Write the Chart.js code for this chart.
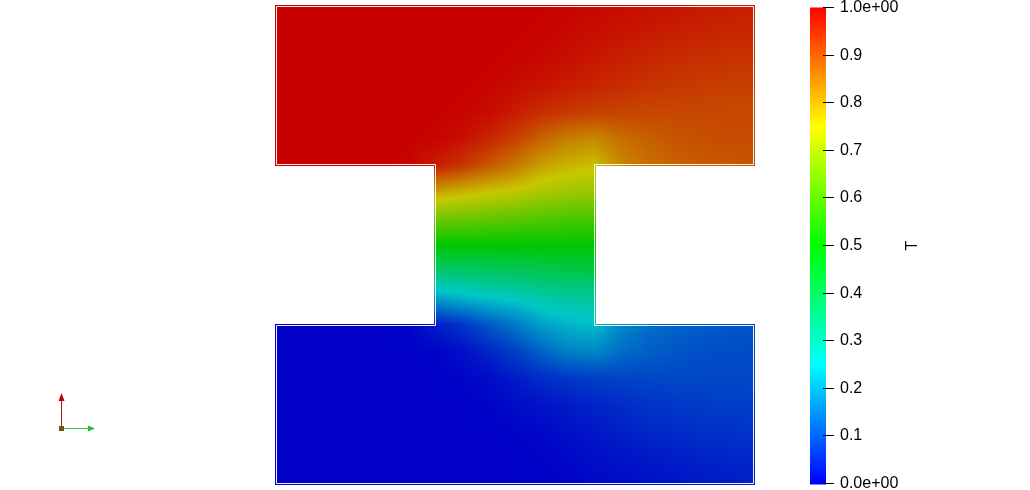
<!DOCTYPE html>
<html>
<head>
<meta charset="utf-8">
<script src="https://cdn.jsdelivr.net/npm/chart.js@4.4.1/dist/chart.umd.min.js"></script>
<style>
html,body{margin:0;padding:0;background:#fff;}
#wrap{width:1030px;height:490px;position:relative;}
</style>
</head>
<body>
<div id="wrap"><canvas id="c" width="1030" height="490"></canvas></div>
<script>
// ---------- DATA (nodal values of T) ----------
// Grid nodes every 1/6 unit; x from 0 to 3 (19 nodes), y from 3 (top) down to 0.
const fieldName = 'T';
const nodesPerUnit = 6;

// Top block: y = 3 ... 2 (7 rows x 19 nodes)
const topBlockT = [
  [1,1,1,1,1,1,1,1,1,1,1,0.995,0.99,0.985,0.98,0.975,0.97,0.965,0.96],
  [1,1,1,1,1,1,1,1,1,1,0.995,0.99,0.982,0.975,0.968,0.962,0.957,0.953,0.95],
  [1,1,1,1,1,1,1,1,1,0.995,0.99,0.98,0.97,0.96,0.952,0.945,0.94,0.937,0.935],
  [1,1,1,1,1,1,1,1,0.995,0.985,0.975,0.965,0.955,0.945,0.935,0.93,0.925,0.922,0.92],
  [1,1,1,1,1,1,1,0.995,0.985,0.965,0.945,0.93,0.92,0.915,0.912,0.91,0.91,0.91,0.91],
  [1,1,1,1,1,1,0.995,0.98,0.955,0.92,0.875,0.84,0.83,0.86,0.88,0.893,0.9,0.905,0.905],
  [1,1,1,1,1,0.995,0.965,0.935,0.89,0.85,0.80,0.775,0.76,0.83,0.86,0.875,0.885,0.89,0.895]
];
// Neck: interior rows y = 11/6 ... 7/6, nodes x = 1 ... 2 (5 rows x 7 nodes)
const neckT = [
  [0.80,0.775,0.755,0.74,0.715,0.70,0.69],
  [0.64,0.635,0.625,0.615,0.605,0.595,0.59],
  [0.5,0.5,0.5,0.5,0.5,0.5,0.5],
  [0.36,0.365,0.375,0.385,0.395,0.405,0.41],
  [0.20,0.225,0.245,0.26,0.285,0.30,0.31]
];
// Bottom block: y = 1 ... 0 (7 rows x 19 nodes)
const bottomBlockT = [
  [0,0,0,0,0,0.005,0.035,0.065,0.11,0.15,0.20,0.225,0.24,0.17,0.14,0.125,0.115,0.11,0.105],
  [0,0,0,0,0,0,0.005,0.02,0.045,0.08,0.125,0.16,0.17,0.14,0.12,0.107,0.1,0.095,0.095],
  [0,0,0,0,0,0,0,0.005,0.015,0.035,0.055,0.07,0.08,0.085,0.088,0.09,0.09,0.09,0.09],
  [0,0,0,0,0,0,0,0,0.005,0.015,0.025,0.035,0.045,0.055,0.065,0.07,0.075,0.078,0.08],
  [0,0,0,0,0,0,0,0,0,0.005,0.01,0.02,0.03,0.04,0.048,0.055,0.06,0.063,0.065],
  [0,0,0,0,0,0,0,0,0,0,0.005,0.01,0.018,0.025,0.032,0.038,0.043,0.047,0.05],
  [0,0,0,0,0,0,0,0,0,0,0,0.005,0.01,0.015,0.02,0.025,0.03,0.035,0.04]
];

const colorbarTicks = [0,0.1,0.2,0.3,0.4,0.5,0.6,0.7,0.8,0.9,1];
const colormapStops = [
  [0.00,[0,0,255]],
  [0.25,[0,255,255]],
  [0.50,[0,255,0]],
  [0.75,[255,255,0]],
  [1.00,[255,0,0]]
];

// ---------- build nodal grid ----------
const NX = 3 * nodesPerUnit + 1;
const grid = [];
topBlockT.forEach(r => grid.push(r));
neckT.forEach(r => { const row = new Array(NX).fill(null); r.forEach((v,k) => row[nodesPerUnit + k] = v); grid.push(row); });
bottomBlockT.forEach(r => grid.push(r));

function cmap(v){
  v = Math.max(0, Math.min(1, v));
  for (let k = 1; k < colormapStops.length; k++){
    if (v <= colormapStops[k][0]){
      const a = colormapStops[k-1], b = colormapStops[k];
      const t = (v - a[0]) / (b[0] - a[0]);
      return a[1].map((c,m) => c + (b[1][m] - c) * t);
    }
  }
  return colormapStops[colormapStops.length-1][1];
}

const SHADE = 0.78;

const fieldPlugin = {
  id: 'field',
  beforeDraw(chart){
    const {ctx, scales} = chart;
    const xs = scales.x, ys = scales.y, cb = scales.cb;
    const L = Math.round(xs.getPixelForValue(0)), R = Math.round(xs.getPixelForValue(3));
    const T = Math.round(ys.getPixelForValue(3)), B = Math.round(ys.getPixelForValue(0));
    const NL = Math.round(xs.getPixelForValue(1)), NR = Math.round(xs.getPixelForValue(2));
    const Y2 = Math.round(ys.getPixelForValue(2)), Y1 = Math.round(ys.getPixelForValue(1));
    const x0 = L - 1, y0 = T - 1, W = R - L + 2, H = B - T + 2;
    const tol = 1.01 / (xs.getPixelForValue(1) - xs.getPixelForValue(0));
    const img = ctx.createImageData(W, H);
    const d = img.data;
    for (let py = 0; py < H; py++){
      const yv0 = ys.getValueForPixel(y0 + py + 0.5);
      for (let px = 0; px < W; px++){
        let xv = xs.getValueForPixel(x0 + px + 0.5);
        let yv = yv0;
        let inside = false;
        if (xv >= -tol && xv <= 3 + tol && ((yv >= 2 - tol && yv <= 3 + tol) || (yv <= 1 + tol && yv >= -tol))) inside = true;
        else if (xv >= 1 - tol && xv <= 2 + tol && yv > 1 && yv < 2) inside = true;
        if (!inside) continue;
        xv = Math.max(0, Math.min(3, xv));
        yv = Math.max(0, Math.min(3, yv));
        if (yv > 1 && yv < 2 && (xv < 1 || xv > 2)){
          const dn = xv < 1 ? 1 - xv : xv - 2, dt = 2 - yv, db = yv - 1;
          if (dn <= dt && dn <= db) xv = xv < 1 ? 1 : 2;
          else if (dt < db) yv = 2; else yv = 1;
        }
        const gx = xv * nodesPerUnit, gy = (3 - yv) * nodesPerUnit;
        const ci = Math.min(NX - 2, Math.floor(gx)), cj = Math.min(grid.length - 2, Math.floor(gy));
        const fx = gx - ci, fy = gy - cj;
        const a = grid[cj][ci], b = grid[cj][ci+1], c = grid[cj+1][ci], e = grid[cj+1][ci+1];
        const v = (a*(1-fx) + b*fx)*(1-fy) + (c*(1-fx) + e*fx)*fy;
        const col = cmap(v);
        const o = (py * W + px) * 4;
        d[o] = col[0]*SHADE; d[o+1] = col[1]*SHADE; d[o+2] = col[2]*SHADE; d[o+3] = 255;
      }
    }
    const off = document.createElement('canvas');
    off.width = W; off.height = H;
    off.getContext('2d').putImageData(img, 0, 0);
    ctx.save();
    ctx.drawImage(off, x0, y0);
    // thin light inset outline along the domain boundary
    ctx.strokeStyle = 'rgba(255,255,255,0.92)';
    ctx.lineWidth = 1;
    ctx.beginPath();
    ctx.moveTo(L+0.5, T+0.5); ctx.lineTo(R-0.5, T+0.5); ctx.lineTo(R-0.5, Y2-0.5);
    ctx.lineTo(NR-0.5, Y2-0.5); ctx.lineTo(NR-0.5, Y1+0.5); ctx.lineTo(R-0.5, Y1+0.5);
    ctx.lineTo(R-0.5, B-0.5); ctx.lineTo(L+0.5, B-0.5); ctx.lineTo(L+0.5, Y1+0.5);
    ctx.lineTo(NL+0.5, Y1+0.5); ctx.lineTo(NL+0.5, Y2-0.5); ctx.lineTo(L+0.5, Y2-0.5);
    ctx.closePath();
    ctx.stroke();
    // colour bar
    const cTop = cb.getPixelForValue(1), cBot = cb.getPixelForValue(0);
    const g = ctx.createLinearGradient(0, cBot, 0, cTop);
    colormapStops.forEach(s => g.addColorStop(s[0], 'rgb(' + s[1].join(',') + ')'));
    ctx.fillStyle = g;
    const barRight = cb.left + 3;
    ctx.fillRect(barRight - 16, cTop, 16, cBot - cTop + 1);
    ctx.restore();
  },
  afterDraw(chart){
    const {ctx, scales} = chart;
    const cb = scales.cb;
    ctx.save();
    // colour bar title
    ctx.fillStyle = '#000';
    ctx.font = '16px "Liberation Sans", Arial, sans-serif';
    ctx.translate(cb.left + 94, (cb.getPixelForValue(0) + cb.getPixelForValue(1)) / 2);
    ctx.rotate(-Math.PI / 2);
    ctx.textAlign = 'center';
    ctx.textBaseline = 'alphabetic';
    ctx.fillText(fieldName, 0, 0);
    ctx.restore();
    // orientation axes triad
    ctx.save();
    const ox = 61.5, oy = 428.5;
    ctx.lineWidth = 1;
    ctx.strokeStyle = 'rgb(170,20,20)';
    ctx.beginPath(); ctx.moveTo(ox, oy); ctx.lineTo(ox, 399); ctx.stroke();
    ctx.fillStyle = 'rgb(190,0,0)';
    ctx.beginPath(); ctx.moveTo(ox, 393); ctx.lineTo(ox - 3, 401); ctx.lineTo(ox + 3, 401); ctx.closePath(); ctx.fill();
    ctx.strokeStyle = 'rgb(60,200,60)';
    ctx.beginPath(); ctx.moveTo(ox, oy); ctx.lineTo(89, oy); ctx.stroke();
    ctx.fillStyle = 'rgb(40,190,40)';
    ctx.beginPath(); ctx.moveTo(95, oy); ctx.lineTo(88, oy - 3); ctx.lineTo(88, oy + 3); ctx.closePath(); ctx.fill();
    ctx.fillStyle = 'rgb(100,90,20)';
    ctx.fillRect(59, 426, 5, 5);
    ctx.restore();
  }
};

new Chart(document.getElementById('c'), {
  type: 'scatter',
  data: { datasets: [] },
  plugins: [fieldPlugin],
  options: {
    responsive: false,
    animation: false,
    events: [],
    layout: { padding: { left: 276, top: 6, bottom: 6, right: 0 } },
    plugins: { legend: { display: false }, tooltip: { enabled: false } },
    scales: {
      x: { type: 'linear', display: false, min: 0, max: 3 * 547 / 478 },
      y: { type: 'linear', display: false, min: 0, max: 3 },
      cb: {
        type: 'linear', position: 'right', min: -0.00105, max: 1.00315,
        afterFit: s => { s.width = 207; s.paddingTop = 0; s.paddingBottom = 0; },
        afterBuildTicks: s => { s.ticks = colorbarTicks.map(v => ({ value: v })); },
        border: { display: false },
        grid: { drawOnChartArea: false, drawTicks: true, tickLength: 11, color: '#000', lineWidth: 1 },
        ticks: {
          padding: 6, color: '#000',
          font: { family: '"Liberation Sans", Arial, sans-serif', size: 16 },
          callback: v => (v === 0 ? '0.0e+00' : v === 1 ? '1.0e+00' : v.toFixed(1))
        }
      }
    }
  }
});
</script>
</body>
</html>
